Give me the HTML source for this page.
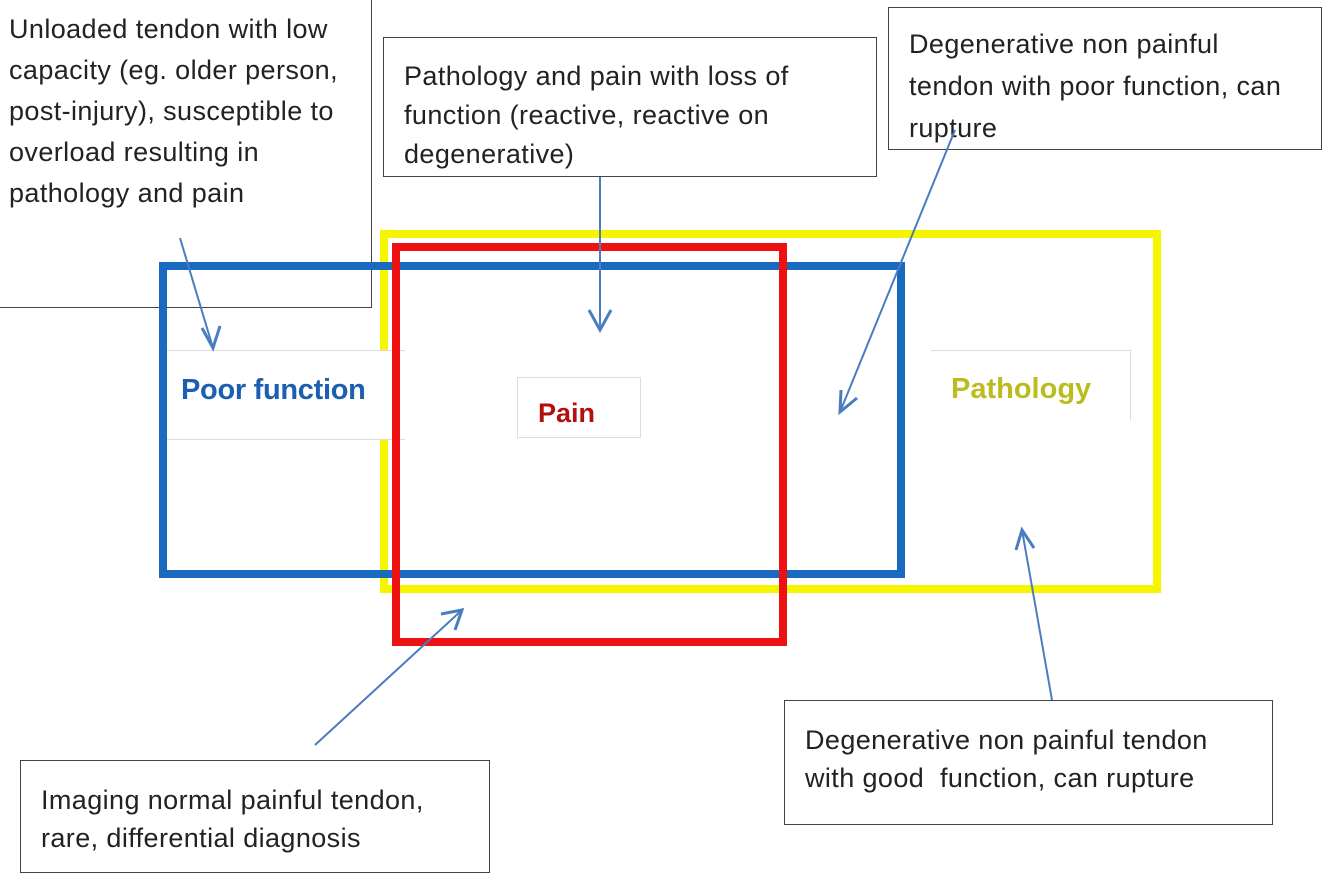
<!DOCTYPE html>
<html><head><style>
body{margin:0;width:1334px;height:883px;background:#fff;position:relative;overflow:hidden;font-family:"Liberation Sans",sans-serif}
.b{position:absolute;border:1.5px solid #444;background:#fff;box-sizing:border-box;font-size:27px;color:#222;white-space:nowrap;letter-spacing:0.4px}
.r{position:absolute;box-sizing:border-box}
.l{position:absolute;box-sizing:border-box;background:#fff;font-weight:bold;font-size:29px;white-space:nowrap}
</style></head><body>
<div class="b" style="left:-2px;top:-2px;width:374px;height:310px;padding:10px 10px;line-height:41px">Unloaded tendon with low<br>capacity (eg. older person,<br>post-injury), susceptible to<br>overload resulting in<br>pathology and pain</div>
<div class="b" style="left:383px;top:37px;width:494px;height:140px;padding:19px 20px;line-height:39px">Pathology and pain with loss of<br>function (reactive, reactive on<br>degenerative)</div>
<div class="b" style="left:888px;top:7px;width:434px;height:143px;padding:15px 20px;line-height:42px">Degenerative non painful<br>tendon with poor function, can<br>rupture</div>
<div class="r" style="left:380px;top:230px;width:781px;height:363px;border:8px solid #f5f500"></div>
<div class="l" style="left:165px;top:350px;width:240px;height:90px;border-top:1px solid #ddd;border-bottom:1px solid #ddd;color:#1c5fb0;padding:23px 16px;letter-spacing:-0.3px">Poor function</div>
<div class="l" style="left:517px;top:377px;width:124px;height:61px;border:1px solid #ddd;color:#b01010;padding:20px 20px;font-size:27px">Pain</div>
<div class="l" style="left:931px;top:350px;width:200px;height:70px;border-top:1px solid #ddd;border-right:1px solid #ddd;color:#bcbc20;padding:22px 20px">Pathology</div>
<div class="r" style="left:159px;top:262px;width:746px;height:316px;border:8px solid #1a6bbf"></div>
<div class="r" style="left:392px;top:243px;width:395px;height:403px;border:8px solid #ee1111"></div>
<div class="b" style="left:20px;top:760px;width:470px;height:113px;padding:20px 20px;line-height:38px">Imaging normal painful tendon,<br>rare, differential diagnosis</div>
<div class="b" style="left:784px;top:700px;width:489px;height:125px;padding:20px 20px;line-height:38px">Degenerative non painful tendon<br>with good&nbsp; function, can rupture</div>
<svg width="1334" height="883" style="position:absolute;left:0;top:0" fill="none" stroke="#4a7cc0" stroke-width="2">
<line x1="180" y1="238" x2="213" y2="348"/><polyline points="202,328 213,348 220,326" stroke-width="3"/>
<line x1="600" y1="177" x2="600" y2="330"/><polyline points="589,310 600,330 611,310" stroke-width="3"/>
<line x1="955" y1="130" x2="840" y2="412"/><polyline points="841,390 840,412 857,398" stroke-width="3"/>
<line x1="315" y1="745" x2="462" y2="610"/><polyline points="441,614 462,610 455,630" stroke-width="3"/>
<line x1="1052" y1="700" x2="1022" y2="530"/><polyline points="1016,550 1022,530 1034,548" stroke-width="3"/>
</svg>
</body></html>
